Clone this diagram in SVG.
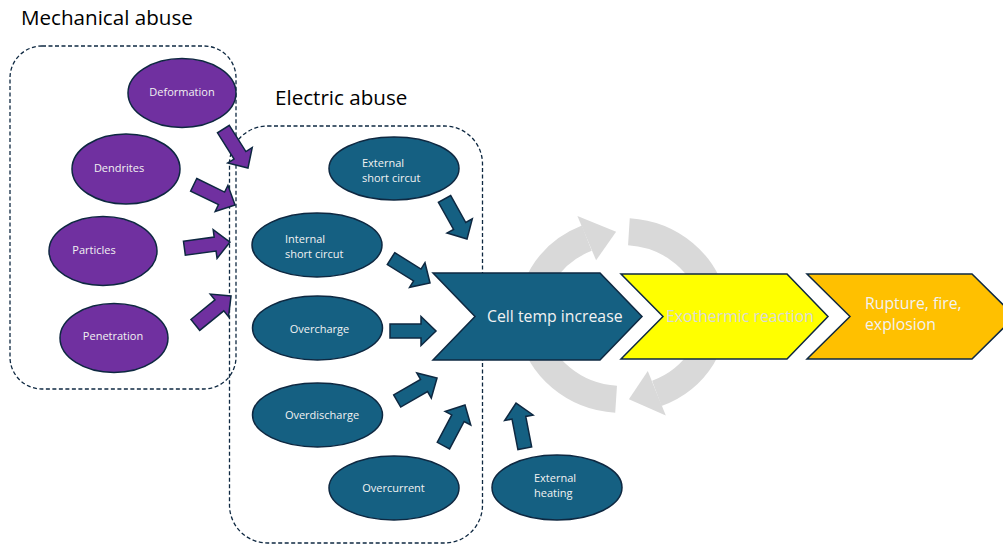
<svg xmlns="http://www.w3.org/2000/svg" width="1003" height="544" viewBox="0 0 1003 544">
  <defs>
    <style>
      text { font-family: "Open Sans", "Noto Sans", "Liberation Sans", sans-serif; }
      .title { font-size: 20.6px; fill: #000000; }
      .grp { fill: none; stroke: #0E2841; stroke-width: 1.3; stroke-dasharray: 4 2.5; }
      .mech { fill: #7030A0; stroke: #0E2841; stroke-width: 1.5; }
      .elec { fill: #156082; stroke: #0E2841; stroke-width: 1.5; }
      .lbl { font-size: 11px; fill: #F2F2F2; }
      .cyc { fill: none; stroke: #D9D9D9; stroke-width: 27; }
      .cychead { fill: #D9D9D9; }
      .chev { stroke: #0E2841; stroke-width: 1.5; }
      .big { font-size: 15.8px; }
    </style>
    <!-- block arrow pointing right, tail at origin, length 46 -->
    <path id="blk" d="M0,-7 H31 V-14.5 L46,0 L31,14.5 V7 H0 Z"/>
  </defs>

  <rect width="1003" height="544" fill="#FFFFFF"/>

  <!-- feedback cycle behind the chevrons -->
  <g id="cycle">
    <path class="cyc" d="M616.1,399.3 A91.5,84 0 0 1 586.8,238.2"/>
    <polygon class="cychead" points="577.4,216.1 616.1,231.7 596.1,260.3"/>
    <path class="cyc" d="M628.9,231.7 A91.5,84 0 0 1 656.8,393.4"/>
    <polygon class="cychead" points="665.8,415.6 628.9,399.3 647.8,371.1"/>
  </g>

  <!-- group frames -->
  <g id="mechanical-group">
    <rect class="grp" x="10" y="46" width="226" height="343" rx="32"/>
    <text class="title" x="21" y="25">Mechanical abuse</text>
  </g>
  <g id="electric-group">
    <rect class="grp" x="229.5" y="126" width="253" height="417" rx="38"/>
    <text class="title" x="275" y="105">Electric abuse</text>
  </g>

  <!-- mechanical causes -->
  <g id="deformation">
    <ellipse class="mech" cx="182" cy="93" rx="54" ry="34.5"/>
    <text class="lbl" x="182" y="96" text-anchor="middle">Deformation</text>
  </g>
  <g id="dendrites">
    <ellipse class="mech" cx="126" cy="169" rx="54" ry="35"/>
    <text class="lbl" x="119" y="172" text-anchor="middle">Dendrites</text>
  </g>
  <g id="particles">
    <ellipse class="mech" cx="103" cy="251" rx="54" ry="34.5"/>
    <text class="lbl" x="94" y="254" text-anchor="middle">Particles</text>
  </g>
  <g id="penetration">
    <ellipse class="mech" cx="114" cy="338" rx="54" ry="34.5"/>
    <text class="lbl" x="113" y="340" text-anchor="middle">Penetration</text>
  </g>

  <!-- electric causes -->
  <g id="external-short">
    <ellipse class="elec" cx="394" cy="168.5" rx="65" ry="31.5"/>
    <text class="lbl" x="362" y="167">External</text>
    <text class="lbl" x="362" y="182">short circut</text>
  </g>
  <g id="internal-short">
    <ellipse class="elec" cx="317" cy="245" rx="65" ry="32"/>
    <text class="lbl" x="285" y="243">Internal</text>
    <text class="lbl" x="285" y="258">short circut</text>
  </g>
  <g id="overcharge">
    <ellipse class="elec" cx="317.5" cy="328" rx="65" ry="32"/>
    <text class="lbl" x="319.5" y="333" text-anchor="middle">Overcharge</text>
  </g>
  <g id="overdischarge">
    <ellipse class="elec" cx="317.5" cy="415" rx="65" ry="32"/>
    <text class="lbl" x="322" y="419" text-anchor="middle">Overdischarge</text>
  </g>
  <g id="overcurrent">
    <ellipse class="elec" cx="394" cy="488" rx="65" ry="32"/>
    <text class="lbl" x="393.5" y="492" text-anchor="middle">Overcurrent</text>
  </g>
  <g id="external-heating">
    <ellipse class="elec" cx="557" cy="487.5" rx="65" ry="32.5"/>
    <text class="lbl" x="534" y="482">External</text>
    <text class="lbl" x="534" y="497">heating</text>
  </g>

  <!-- block arrows into the temperature rise -->
  <g id="connectors">
    <use href="#blk" class="mech" transform="translate(223.4,129.1) rotate(57.7)"/>
    <use href="#blk" class="mech" transform="translate(193.7,184.8) rotate(26)"/>
    <use href="#blk" class="mech" transform="translate(184.4,248.2) rotate(-7.7)"/>
    <use href="#blk" class="mech" transform="translate(195.3,324.9) rotate(-39)"/>
    <use href="#blk" class="elec" transform="translate(444.5,198.9) rotate(60.7)"/>
    <use href="#blk" class="elec" transform="translate(391,258.6) rotate(32)"/>
    <use href="#blk" class="elec" transform="translate(390,331) rotate(0)"/>
    <use href="#blk" class="elec" transform="translate(397.2,401) rotate(-30)"/>
    <use href="#blk" class="elec" transform="translate(443.4,445.6) rotate(-62)"/>
    <use href="#blk" class="elec" transform="translate(524.8,448.2) rotate(-101)"/>
  </g>

  <!-- process chain -->
  <g id="cell-temp">
    <polygon class="chev" fill="#156082" points="433,273 600,273 642,316.5 600,360 433,360 475,316.5"/>
    <text class="big" x="487" y="322" fill="#F2F2F2">Cell temp increase</text>
  </g>
  <g id="exothermic">
    <polygon class="chev" fill="#FFFF00" points="621,274 787,274 828,316.5 787,359 621,359 663,316.5"/>
    <text class="big" x="666" y="322" fill="#D9D9D9">Exothermic reaction</text>
  </g>
  <g id="rupture">
    <polygon class="chev" fill="#FFC000" points="807,274 972,274 1015,316.5 972,359 807,359 850,316.5"/>
    <text class="big" x="865" y="309" fill="#F2F2F2">Rupture, fire,</text>
    <text class="big" x="865" y="330" fill="#F2F2F2">explosion</text>
  </g>
</svg>
